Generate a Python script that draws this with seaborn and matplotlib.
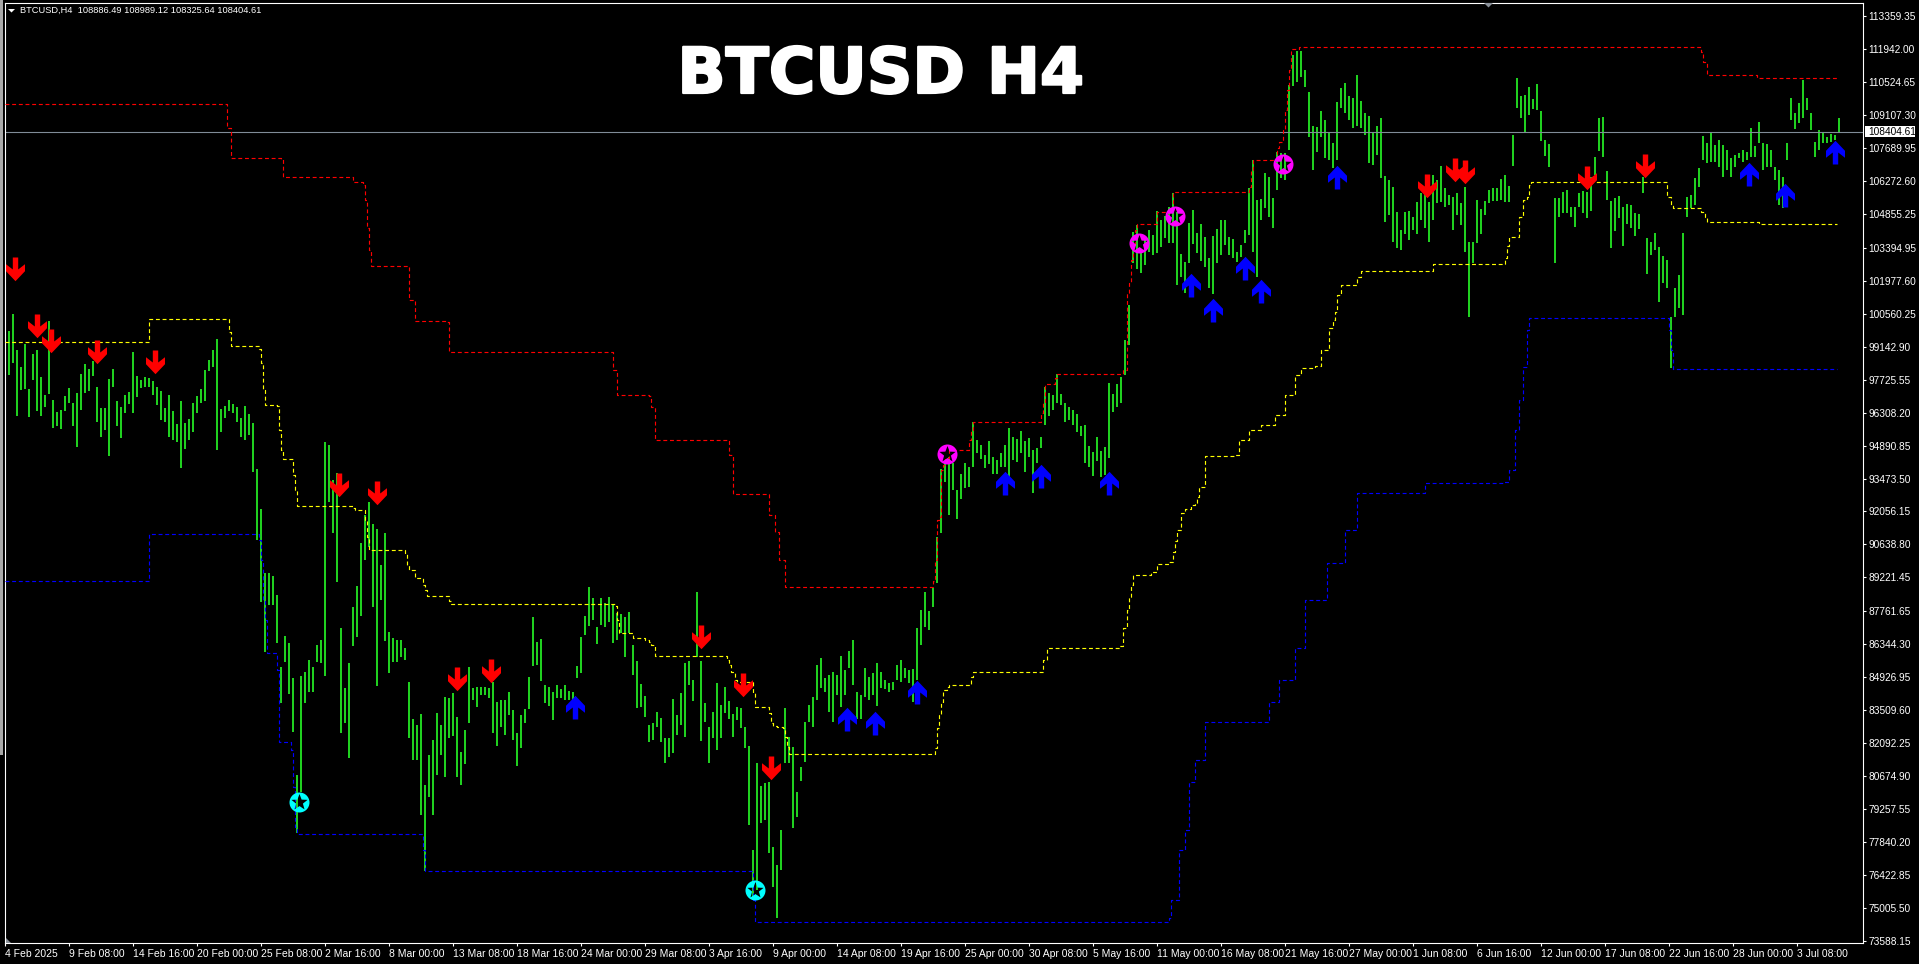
import numpy as np
import seaborn as sns
import matplotlib
matplotlib.use("Agg")
import matplotlib.pyplot as plt
import matplotlib.patheffects as pe
from matplotlib.path import Path
from matplotlib.patches import Polygon, Rectangle
from matplotlib.transforms import Affine2D

# ---------- price bars (high / low, USD), sampled every other 4h bar ----------
highs_feb = [102620,99820,100555,99005,98285,99260,97325,98830,99005,97830,97065,100250,96850,96320,96420,97025,97355,96735,97140,97970,98400,98170,98545,97425,96495,96495,97740,98170,96810,96535,97065,97210,98905,97885,97710,97830,97785,97685,97425,97240,96520,97065,96390,95820,96810,95850,96030,96710,97040,97310,98140,98575,99005,99460,96465,96595,96850,96680,96565,96060,96595,96235,95850,93870]
lows_feb = [100755,97930,98430,96180,97280,97325,96135,97710,96390,96180,96565,97110,95630,95730,95600,96390,96710,95745,94840,96420,97140,97255,97885,95920,95275,95560,94455,97425,95745,95230,96280,96665,96305,96995,97355,97395,97395,97065,96635,95990,95920,95270,95130,95060,93940,94740,95130,95490,96305,96710,96825,98115,98285,94700,95490,96060,96380,96280,95920,95245,95130,95345,93765,90825]
highs_mar = [92150,89390,89390,89290,88460,85375,86690,86375,84870,80710,84970,85130,85660,85345,86305,86520,95030,94915,93410,93700,87025,84440,85515,87955,88845,90685,91900,92475,91500,91285,89750,91115,86880,86595,86520,86520,86160,84725,83120,82865,83335,80280,81570,82220,83365,82860,84080,84010,84225,83220,81715,82650,85345,84440,84510,84510,84510,84440,84725,83865,83940,83940,84300,83505,82500,83290,83535,84915,87495,86450,86550,84585,84515,84300,84585,84400,84585,84340]
lows_mar = [88170,86020,88030,88030,86380,83795,85590,84195,82575,78200,80000,83795,84300,84300,85590,85520,84985,92475,91140,89035,82505,82935,81425,86280,86665,87570,89965,90540,87955,84555,88240,86495,85115,85590,85590,85805,85660,82290,81355,81355,78990,76570,79770,78990,80710,81570,80610,82290,82390,80640,80280,81200,82935,83940,83620,84155,84155,84010,82505,81975,82790,82430,83290,82215,81110,81860,82935,83535,85400,85445,84770,83795,83680,83080,84040,84010,83940,83940]
highs_apr1 = [84300,85405,86666,87556,88820,88345,87097,88345,88100,88360,88030,87670,87640,87527,87742,86307,85618,84614,84112,82864,82935,83437,83150,82289,82318,83983,83293,84255,85547,85618,84800,88575,85618,83796,82791,83437,84686,83724,84513,83911,83337,83624,83581,82792]
lows_apr1 = [83870,84870,85090,86738,87125,87385,86350,87168,87070,87310,86408,86520,86810,85805,86810,85016,83580,83625,83222,82145,82218,82792,82145,81242,81500,81672,82433,82863,82361,84585,83896,85800,82190,83007,81213,82290,81787,82290,83365,83107,82361,83078,82720,81887]
highs_apr2 = [81960,77480,81215,80240,80353,80395,77626,76837,78343,83581,82362,81931,79994,81041,83007,83725,84055,85447,85734,84873,85016,85160,85016,85834,85231,86049,86520,84299,84155,85303,84945,85088,85518,85160,84801,84658,84730,85447,85662,85332,85232,85260,87040]
lows_apr2 = [78560,75330,75760,78630,78775,77339,75904,74541,76620,81213,81242,78415,78917,80467,81285,83007,82763,83940,84442,84299,83437,82979,84155,83653,84155,85332,84586,83122,83122,84084,83940,84155,83696,84442,84414,84299,84370,84801,84730,84873,84658,83868,84801]
highs_may1 = [87812,88572,87784,88745,90969,93868,94126,94413,94126,92978,93667,94155,93982,95920,95130,94915,94485,95102,94384,94270,94557,94915,95633,95245,95160,95518,95087,95200,94700,94772,95245,97426,97140,97068,97972,97110,96709,96565,96422,96250,95733,95776,94872,94628,95274,94671,94815,97570,97111,97541,97830,99440,100940]
lows_may1 = [86300,87100,86950,87956,88990,91113,93337,91902,92978,91729,92576,93050,93120,93983,94557,94298,93910,94097,93667,93667,93983,93983,93552,94270,94198,94585,93767,94413,92863,94126,94772,95776,96178,96422,96709,96637,95920,95990,95776,95490,95303,94126,93983,93580,94241,93552,93624,94341,96350,96537,96709,97930,99220]
highs_may2 = [104096,104400,103308,103739,104169,103954,104987,104600,104772,105173,105747,104958,103136,102806,104456,105030,104025,104413,103881,102949,103911,104198,104600,104600,103853,103782,103236,103523,104169,105963,107183,105460,105503,106608,106436,105533,107541,107470,107470,110410]
lows_may2 = [102734,102480,102332,102663,103236,103093,103165,103452,103810,103596,103596,101801,102160,101443,102763,103566,103193,102849,102590,101686,101400,102734,103093,103523,103093,102950,102806,103021,103596,103954,103236,102160,104600,105100,104743,104241,105891,106393,106323,107613]
highs_jun1 = [111700,111873,111873,111056,110123,108645,108616,109305,108903,108329,107900,109692,110266,110510,109936,109836,110840,109721,109190,109075,108329,108645,108975,106492,106320,106033,104957,104167,104928,104985,104742,105387,105746,105818,105387,106535,106320,106922,105961,105674,105603,105747,105316,106004,103665,103665,105459,105057,105430,105889,105961,105961,106349,106535,106062,108258,110725,109936,109979,110338,109793,110438,109305,108042,107870]
lows_jun1 = [110367,110553,110740,110338,108186,106750,107540,108186,107253,107180,106823,107180,109405,109190,108903,108544,108645,108544,108257,107037,106966,107396,106392,104526,104813,103665,103378,103307,103981,103737,104168,103995,104598,104240,103665,104598,105316,105387,105144,105244,104168,104813,104383,103235,100436,102733,103594,103995,104813,105316,105430,105430,105459,105387,105387,106911,109405,108975,108358,109118,109377,109333,108000,107368,106894]
highs_jun2 = [105531,105531,105818,105890,105172,105172,105746,105860,105818,106464,107324,108975,109018,106708,105417,105531,105632,105172,105272,105244,104885,104842,106464,103809,103665,104024,103450,103048,102876,100437,101658,102231,104024,105603,105675,106392,106823,108229,107928,108330,107827,108043,107827,107612,107253,107397,107469,107612,107540,108545,107784,108832,107899,107871,107612,106895,106751,106465,107928,109836,109191,109650,110625,109836,109219,107970,108473,108330,108186,108301,108258,108989]
lows_jun2 = [102732,104742,104885,104885,104742,104310,105172,104885,104669,104999,106535,107583,107324,105459,103379,104125,104670,103480,104426,104240,103924,104211,105746,102274,103092,103307,101083,101872,101657,98212,100437,100796,100508,104713,105100,105244,106033,107182,107038,107110,107110,106894,106465,106751,106465,106895,107253,107110,107182,107296,107296,107899,106751,106895,106895,106321,105245,105100,107182,108904,108502,108760,108975,109334,108473,107296,107612,107928,107928,107971,108043,108325]

# ---------- channel lines (bar number, price) ----------
red_bar = [0,111,113,138,139,173,174,179,180,181,182,183,199,202,205,221,222,303,304,306,322,323,325,361,362,364,381,382,385,387,390,462,464,465,466,467,468,469,470,472,481,482,483,484,517,518,519,520,524,525,526,558,559,561,562,563,564,565,566,575,576,583,584,621,622,623,624,634,636,637,639,640,641,642,643,647,847,848,849,851,876,916]
red_price = [109571,108560,107269,107204,106451,106451,106236,106107,105461,104256,103309,102620,102620,101157,100253,100210,98919,98919,98144,97068,97025,96552,95131,95088,94486,92807,92807,91903,91171,89967,88805,88805,89063,89967,91688,91817,93840,94055,94357,94701,94701,95131,95562,95906,95906,96294,96724,97542,97542,97800,97972,97972,98144,101458,101889,102879,103438,104170,104428,104428,104945,104988,105805,105805,106021,106752,107183,107183,107699,107957,108474,109335,110195,111056,111960,112046,112046,111831,111401,110841,110712,110712]
yellow_bar = [0,71,72,111,112,113,126,127,128,129,130,136,137,138,139,143,144,145,146,173,174,175,179,180,181,182,199,200,201,202,204,205,208,209,210,211,221,222,223,303,305,306,307,313,314,320,322,323,325,360,361,362,363,364,365,366,373,374,375,381,382,383,384,386,389,390,391,392,462,465,466,467,468,469,471,472,482,483,484,518,519,521,557,559,561,562,563,564,573,576,582,584,585,586,588,590,593,595,596,597,600,615,617,622,628,635,640,645,648,655,658,662,664,665,666,668,675,676,678,712,714,749,750,751,752,756,757,759,761,762,763,830,831,833,834,846,848,850,851,876,877,916]
yellow_price = [99337,99350,100339,100339,99780,99177,99177,99048,98446,97283,96638,96595,95562,94701,94314,94314,93625,92980,92291,92291,92205,92119,92119,91688,90957,90397,90397,90268,89751,89536,89536,89192,89192,88891,88676,88418,88418,88202,88073,88073,87987,87385,86825,86825,86610,86524,86438,86309,85835,85835,85663,85448,85146,85146,84802,84715,84715,84242,83640,83640,83382,82951,82822,82779,82736,82349,81918,81617,81617,81875,82736,83296,83855,84372,84500,84587,84587,84931,85146,85146,85663,86179,86265,87040,87815,88374,88891,89321,89450,89794,89881,90311,90784,91258,91989,92162,92334,92420,92678,93109,94443,94486,95131,95562,95777,96207,97068,97929,98230,98317,99005,99952,100296,100641,101372,101803,101803,102147,102405,102405,102707,102707,102965,103481,103869,103869,104729,105461,105590,106107,106236,106236,105590,105246,105117,105117,104945,104729,104514,104514,104428,104428]
blue_bar = [0,71,72,125,127,128,129,130,131,135,136,137,142,143,144,145,146,208,209,210,373,374,375,582,583,587,590,592,595,600,632,637,645,650,661,670,676,710,749,752,755,757,759,761,762,831,832,833,834,916]
blue_price = [89063,89063,91086,91086,90827,89967,88245,87384,85963,85963,85232,82133,82133,81789,80196,78475,78174,78174,77485,76581,76581,75333,74400,74558,75333,77485,78346,80411,81360,82993,83854,84802,86179,88245,89837,91258,92850,93281,93323,93840,95562,96853,98274,99866,100382,100382,99866,99005,98187,98187]

# ---------- signal markers (bar number, price) ----------
sell_bar = [5,16,23,46,75,167,186,226,243,348,369,383,711,725,730,791,820]
sell_price = [102470,100018,99372,98898,98467,93173,92829,84866,85168,86631,84565,80993,106042,106731,106645,106429,106903]
buy_bar = [285,421,435,456,500,518,552,593,604,620,628,666,872,890,915]
buy_price = [83640,83123,82951,84286,93281,93582,93281,101803,100727,102534,101544,106451,106580,105676,107527]
low_star_bar = [147,375]
low_star_price = [79565,75777]
high_star_bar = [471,567,585,639]
high_star_price = [94542,103610,104772,107023]

last_price = 108404.61
title_text = "BTCUSD H4"
header_text = "BTCUSD,H4  108886.49 108989.12 108325.64 108404.61"
y_tick_values = [113359.35,111942.00,110524.65,109107.30,107689.95,106272.60,104855.25,103394.95,101977.60,100560.25,99142.90,97725.55,96308.20,94890.85,93473.50,92056.15,90638.80,89221.45,87761.65,86344.30,84926.95,83509.60,82092.25,80674.90,79257.55,77840.20,76422.85,75005.50,73588.15]
x_tick_labels = ["4 Feb 2025","9 Feb 08:00","14 Feb 16:00","20 Feb 00:00","25 Feb 08:00","2 Mar 16:00","8 Mar 00:00","13 Mar 08:00","18 Mar 16:00","24 Mar 00:00","29 Mar 08:00","3 Apr 16:00","9 Apr 00:00","14 Apr 08:00","19 Apr 16:00","25 Apr 00:00","30 Apr 08:00","5 May 16:00","11 May 00:00","16 May 08:00","21 May 16:00","27 May 00:00","1 Jun 08:00","6 Jun 16:00","12 Jun 00:00","17 Jun 08:00","22 Jun 16:00","28 Jun 00:00","3 Jul 08:00"]
bars_per_tick = 32

highs = np.array(highs_feb + highs_mar + highs_apr1 + highs_apr2 + highs_may1 + highs_may2 + highs_jun1 + highs_jun2, float)
lows = np.array(lows_feb + lows_mar + lows_apr1 + lows_apr2 + lows_may1 + lows_may2 + lows_jun1 + lows_jun2, float)
n_first = 387
bar_index = np.concatenate([np.arange(n_first) * 2, 775 + 2 * np.arange(len(highs) - n_first)])

sns.set_theme(style="dark", rc={"axes.facecolor": "black", "figure.facecolor": "black"})
plt.rcParams["font.family"] = ["Liberation Sans", "DejaVu Sans"]

W, H = 1919, 964
fig = plt.figure(figsize=(W / 100, H / 100), dpi=100, facecolor="black")
L, R, T, B = 5.0, 1862.5, 2.5, 943.0
ax = fig.add_axes([L / W, 1 - B / H, (R - L) / W, (B - T) / H], facecolor="black")
ax.set_xlim(-0.15, 928.6)
ax.set_ylim(73482, 113961)
px = 0.72  # one screen pixel in points
pixels = Affine2D().scale(1, -1).translate(0, H)

ax.vlines(bar_index, lows, highs, color="#20D020", lw=2.0 * px, zorder=2)

for bars, prices, col in [(red_bar, red_price, "#FF0000"),
                          (yellow_bar, yellow_price, "#FFFF00"),
                          (blue_bar, blue_price, "#0000FF")]:
    sns.lineplot(x=bars, y=prices, ax=ax, color=col, lw=1.15 * px, estimator=None, sort=False,
                 errorbar=None, drawstyle="steps-post", linestyle=(0, (3.4, 2.4)),
                 dash_capstyle="butt", zorder=3, legend=False)

ax.axhline(last_price, color="#808C98", lw=1.1 * px, zorder=2.5)

# arrow and ring glyphs
a = 12.0
down_v = [(-2.7, 12), (2.7, 12), (2.7, 0), (9.5, 5.3), (9.5, -1.7), (0, -11.7), (-9.5, -1.7), (-9.5, 5.3), (-2.7, 0), (-2.7, 12)]
down_arrow = Path(np.array(down_v) / a, closed=True)
up_arrow = Path(np.array(down_v) * [1, -1] / a, closed=True)
circle = Path.unit_circle()
star = Path.unit_regular_star(5, innerCircle=0.42)
star_hole = Path(star.vertices[::-1] * 0.85, star.codes)
ring = Path.make_compound_path(circle, star_hole)

s_arrow = (24 * px) ** 2
s_ring = (20 * px) ** 2
sns.scatterplot(x=sell_bar, y=sell_price, ax=ax, marker=down_arrow, s=s_arrow, color="#FF0000", linewidth=0, zorder=5, legend=False)
sns.scatterplot(x=buy_bar, y=buy_price, ax=ax, marker=up_arrow, s=s_arrow, color="#0000FF", linewidth=0, zorder=5, legend=False)
sns.scatterplot(x=low_star_bar, y=low_star_price, ax=ax, marker=ring, s=s_ring, color="#00FFFF", linewidth=0, zorder=4, legend=False)
sns.scatterplot(x=high_star_bar, y=high_star_price, ax=ax, marker=ring, s=s_ring, color="#FF00FF", linewidth=0, zorder=4, legend=False)

# axes furniture
for sp in ax.spines.values():
    sp.set_color("white")
    sp.set_linewidth(1.1 * px)
ax.grid(False)
ax.yaxis.tick_right()
ax.set_yticks(y_tick_values)
ax.set_yticklabels([f"{v:.2f}" for v in y_tick_values])
ax.set_xticks(np.arange(len(x_tick_labels)) * bars_per_tick)
ax.set_xticklabels(x_tick_labels, ha="left")
ax.tick_params(axis="y", colors="white", length=3 * px, width=1.1 * px, labelsize=7.3, pad=3 * px, right=True, left=False)
ax.tick_params(axis="x", colors="white", length=3 * px, width=1.1 * px, labelsize=7.5, pad=3 * px, bottom=True)
ax.set_xlabel("")
ax.set_ylabel("")

title = fig.text(881 / W, 1 - 76 / H, title_text, color="white", fontsize=45.6, fontweight="bold",
                 family="DejaVu Sans", ha="center", va="center")
title.set_path_effects([pe.withStroke(linewidth=1.6, foreground="white")])
fig.text(20 / W, 1 - 10.5 / H, header_text, color="white", fontsize=6.7, ha="left", va="center")

# last-price tag, header triangle, edge marks
fig.add_artist(Rectangle((1864.5, 126), 50.5, 11, transform=pixels, facecolor="white", edgecolor="none"))
fig.text(1868 / W, 1 - 131.7 / H, f"{last_price:.2f}", color="black", fontsize=7.3, ha="left", va="center")
fig.add_artist(Polygon([(8, 9), (15, 9), (11.5, 12.5)], closed=True, transform=pixels, facecolor="white", edgecolor="none"))
fig.add_artist(Polygon([(1484, 3), (1493, 3), (1488.5, 7.5)], closed=True, transform=pixels, facecolor="#8A9099", edgecolor="none"))
fig.add_artist(Polygon([(5.5, 938), (5.5, 943), (10.5, 943)], closed=True, transform=pixels, facecolor="#8A9099", edgecolor="none"))
fig.add_artist(Rectangle((0, 0), 2.6, 755, transform=pixels, facecolor="#A8A8A8", edgecolor="none"))

fig.savefig("out.png", dpi=100, facecolor="black")
